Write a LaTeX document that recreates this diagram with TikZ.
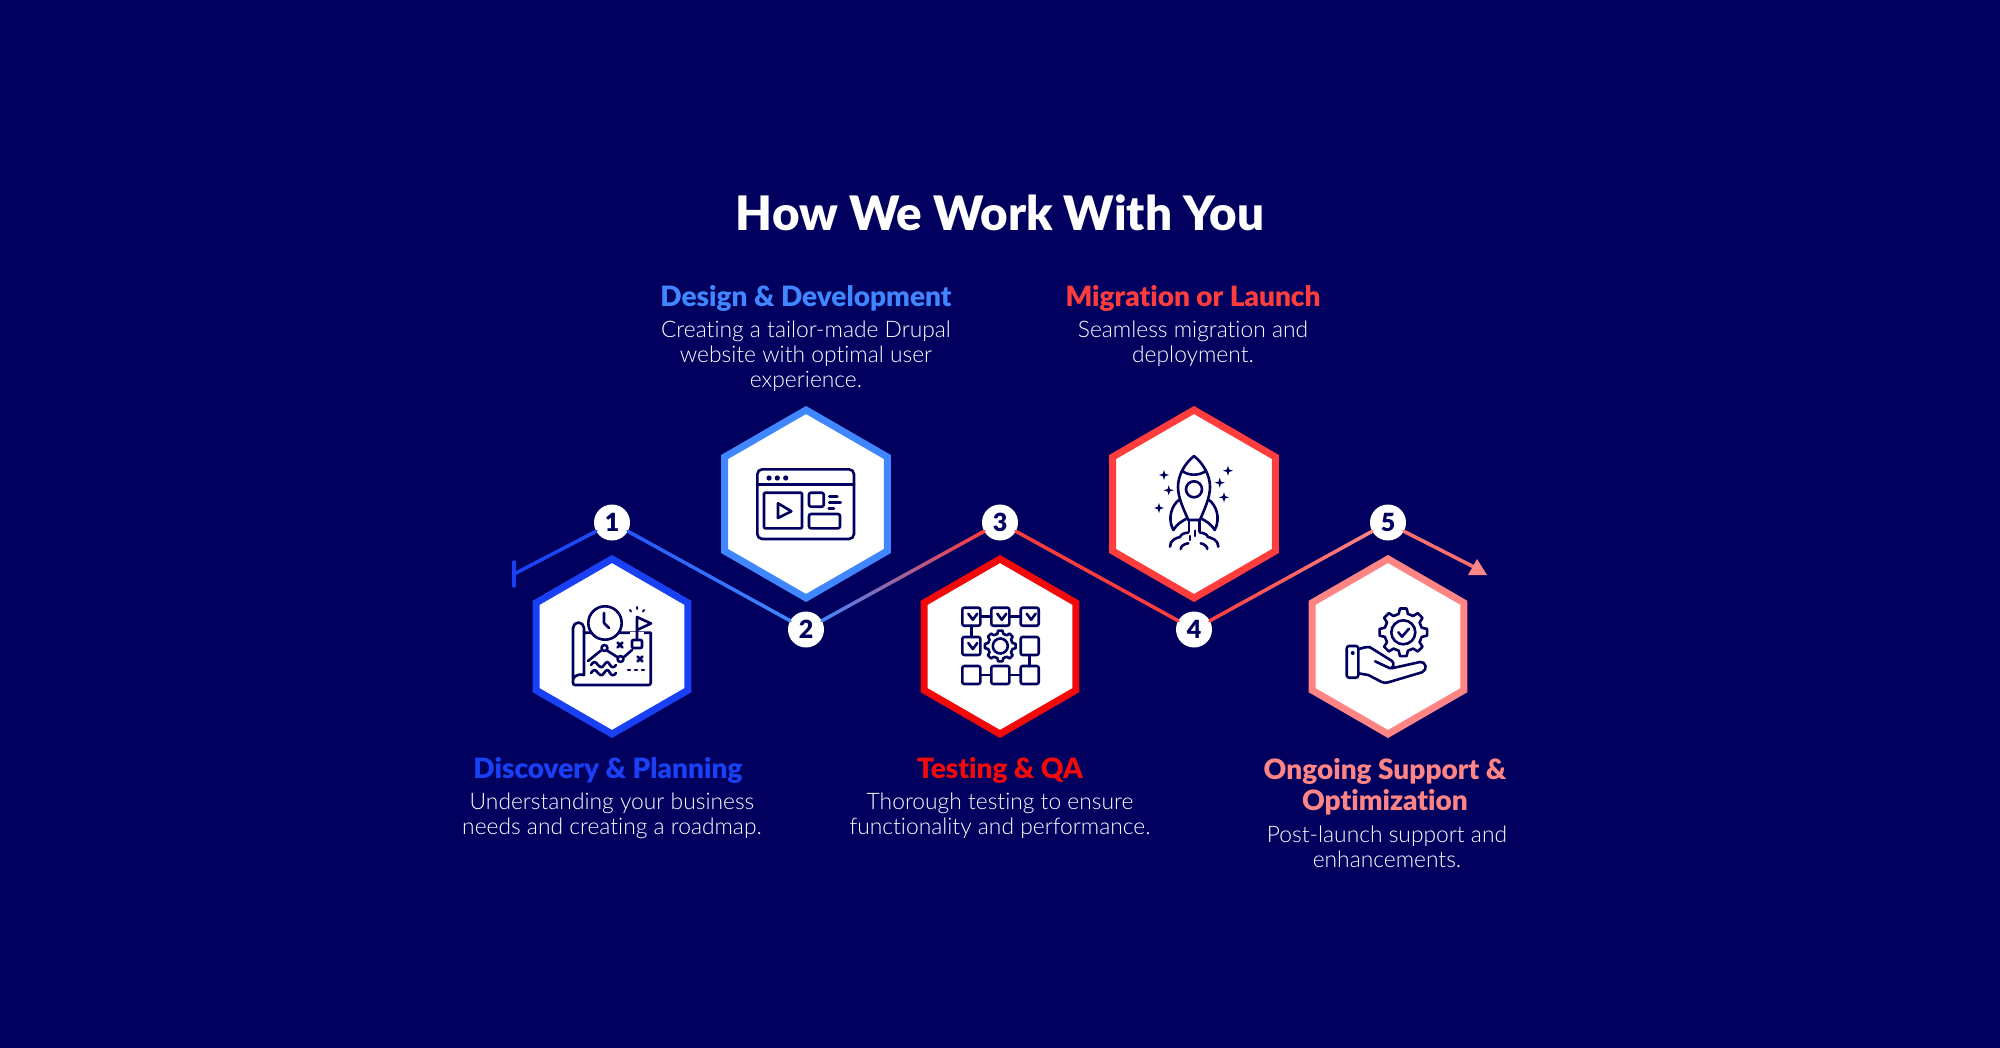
\documentclass[tikz,border=0pt]{standalone}
\usepackage{fontspec}
\setmainfont{Lato}[Ligatures=NoCommon]
\newfontfamily\bodyfont{Lato Light}[Ligatures=NoCommon]
\newfontfamily\heavyfont{Lato Black}[Ligatures=NoCommon]
\usetikzlibrary{calc,shapes.geometric}

\definecolor{navy}{HTML}{01005F}
\definecolor{hexa}{HTML}{1A40F5}
\definecolor{hexb}{HTML}{3F86FF}
\definecolor{hexc}{HTML}{F00A0A}
\definecolor{hexd}{HTML}{FF3D3D}
\definecolor{hexe}{HTML}{FF8585}

\newcommand\gradline[4]{
  \foreach \i in {1,...,24} {
    \pgfmathsetmacro\ta{(\i-1)/24}
    \pgfmathsetmacro\tb{\i/24}
    \pgfmathtruncatemacro\pct{100*\i/24}
    \draw [link,#4!\pct!#3] ($(#1)!\ta!(#2)$) -- ($(#1)!\tb!(#2)$);
  }
}
\newcommand\gearicon[4]{
  \draw [icon,shift={(#1)}] (-14:#2) foreach \a in {0,45,...,315}
    { -- (\a-14:#2) -- (\a-8:#3) -- (\a+8:#3) -- (\a+14:#2) } -- cycle;
  \draw [icon] (#1) circle (#4);
}
\newcommand\sparkle[1]{
  \fill [navy,shift={(#1)}] (0,-5) -- (1.2,-1.2) -- (5,0) -- (1.2,1.2) -- (0,5)
    -- (-1.2,1.2) -- (-5,0) -- (-1.2,-1.2) -- cycle;
}

\begin{document}
\begin{tikzpicture}
[x=1pt,y=-1pt
,hexbox/.style={regular polygon,regular polygon sides=6,shape border rotate=30,fill=white,line width=7pt,inner sep=0pt,outer sep=0pt,minimum size=175pt}
,bighex/.style={hexbox,minimum size=188pt}
,numdot/.style={circle,fill=white,inner sep=0pt,minimum size=36pt,text=navy,font=\heavyfont\fontsize{25}{25}\selectfont}
,link/.style={line width=3.5pt,line cap=round}
,icon/.style={draw=navy,line width=2.6pt,line join=round,line cap=round}
,headtext/.style={inner sep=0pt,align=center,font=\heavyfont\fontsize{28}{31}\selectfont}
,desctext/.style={inner sep=0pt,align=center,text=white,font=\bodyfont\fontsize{22.8}{25}\selectfont}
]

\fill [navy] (0,0) rectangle (2000,1048);

\node [inner sep=0pt,text=white,font=\heavyfont\fontsize{47.5}{49}\selectfont] (title) at (1000,213) {How We Work With You};

\node [hexbox,draw=hexa] (hex1) at (612,646.5) {};
\node [bighex,draw=hexb] (hex2) at (806,504) {};
\node [hexbox,draw=hexc] (hex3) at (1000,646.5) {};
\node [bighex,draw=hexd] (hex4) at (1194,504) {};
\node [hexbox,draw=hexe] (hex5) at (1388,646.5) {};

\node [numdot] (n1) at (612,522.5) {1};
\node [numdot] (n2) at (806,629.5) {2};
\node [numdot] (n3) at (1000,522.5) {3};
\node [numdot] (n4) at (1194,629.5) {4};
\node [numdot] (n5) at (1388,522.5) {5};

\coordinate (start) at (514,574);
\coordinate (tickup) at (514,562);
\coordinate (tickdown) at (514,586);
\coordinate (finish) at (1476,568);

\gradline{start}{n1.209}{hexa}{hexa!85!hexb}
\gradline{n1.-29}{n2.151}{hexa!70!hexb}{hexb}
\gradline{n2.29}{n3.209}{hexb}{hexd}
\gradline{n3.-29}{n4.151}{hexd}{hexd}
\gradline{n4.29}{n5.209}{hexd}{hexe}
\gradline{n5.-29}{finish}{hexe!70!hexd}{hexe}
\draw [link,hexa] (tickup) -- (tickdown);
\fill [hexe] (1477,559) -- (1487,575) -- (1468,575) -- cycle;

\node [headtext,text=hexa] (head1) at (608,770.5) {Discovery \& Planning};
\node [desctext] (desc1) at (612,816) {Understanding your business\\needs and creating a roadmap.};
\node [headtext,text=hexb] (head2) at (806,298.5) {Design \& Development};
\node [desctext] (desc2) at (806,356) {Creating a tailor-made Drupal\\website with optimal user\\experience.};
\node [headtext,text=hexc] (head3) at (1000,770.5) {Testing \& QA};
\node [desctext] (desc3) at (1000,816) {Thorough testing to ensure\\functionality and performance.};
\node [headtext,text=hexd] (head4) at (1193,298.5) {Migration or Launch};
\node [desctext] (desc4) at (1193,344) {Seamless migration and\\deployment.};
\node [headtext,text=hexe] (head5) at (1385,786.5) {Ongoing Support \&\\Optimization};
\node [desctext] (desc5) at (1387,846.5) {Post-launch support and\\enhancements.};

% map icon
\draw [icon] (584,632.7) -- (650.7,632.7) [rounded corners=2pt] -- (650.7,685) -- (573,685) [sharp corners] -- (573,628) arc (180:360:5.5) -- (584,675) .. controls (578,673) and (573,677) .. (573,680);
\fill [white] (605,623) circle (16.7);
\draw [icon] (605,623) circle (16.7);
\draw [icon] (604,613) -- (604,623) -- (609,628);
\fill [white] (630,640) rectangle (644,632);
\draw [icon] (637,640) -- (637,617) -- (651,623.5) -- (637,630);
\draw [icon,fill=white,rounded corners=1pt] (632,640) rectangle (642,648);
\draw [icon,line width=2pt] (630,610) -- (631,611.5) (637,607) -- (637,609) (643,611.5) -- (644,610);
\draw [icon] (588,661) -- (601,650.5) (607,650.5) -- (618,657.5) (624,657) -- (632,650);
\draw [icon] (604.5,648) circle (3) (620.5,659) circle (3);
\foreach \mx/\my in {620/645,640/659}
  \draw [icon] (\mx-2.5,\my-2.5) -- (\mx+2.5,\my+2.5) (\mx-2.5,\my+2.5) -- (\mx+2.5,\my-2.5);
\draw [icon] (628,670) -- (630,670) (635,670) -- (637,670) (642,670) -- (644,670);
\foreach \wy in {665,673}
  \draw [icon] (591,\wy) .. controls (594,\wy-4) and (595,\wy-4) .. (598,\wy) .. controls (601,\wy+3) and (602,\wy+3) .. (604,\wy) .. controls (607,\wy-4) and (608,\wy-4) .. (610,\wy) .. controls (612,\wy+3) and (614,\wy+3) .. (616,\wy);

% browser icon
\draw [icon,rounded corners=5pt] (757.3,469.3) rectangle (854,539);
\draw [icon] (757.3,484.3) -- (854,484.3);
\foreach \dx in {769,777.3,785.7}
  \fill [navy] (\dx,478) circle (2.6);
\draw [icon,rounded corners=1pt] (764,492.7) rectangle (802,528.3);
\draw [icon] (778,503.3) -- (791.3,511.3) -- (778,518) -- cycle;
\draw [icon,rounded corners=2pt] (809,492.7) rectangle (823.7,506.7);
\draw [icon,rounded corners=2pt] (809,514) rectangle (840,528.3);
\draw [icon] (829.3,496.7) -- (837.3,496.7) (829.3,502.3) -- (840.7,502.3) (828.7,508.3) -- (834,508.3);

% flow icon
\foreach \bx/\by in {971.3/616.7,1000.3/616.7,1029.7/616.7,971.3/646,1029.7/646,971.3/675,1000.3/675,1029.7/675}
  \draw [icon,rounded corners=2pt] (\bx-9,\by-9) rectangle (\bx+9,\by+9);
\foreach \bx/\by in {971.3/616.7,1000.3/616.7,1029.7/616.7,971.3/646}
  \draw [icon] (\bx-3,\by-3) -- (\bx+1.5,\by+3) -- (\bx+6,\by-3);
\draw [icon] (980.3,616.7) -- (991.3,616.7) (1009.3,616.7) -- (1020.7,616.7) (980.3,675) -- (991.3,675) (1009.3,675) -- (1020.7,675) (971.3,625.7) -- (971.3,637) (1029.7,655) -- (1029.7,666);
\gearicon{1000.3,646}{12.5}{15.5}{7.5}

% rocket icon
\draw [icon] (1194,456) .. controls (1184,464) and (1178,476) .. (1178,487) .. controls (1178,498) and (1184,510) .. (1188.3,520) -- (1200,520) .. controls (1204,510) and (1210,498) .. (1210,487) .. controls (1210,476) and (1204,464) .. (1194,456) -- cycle;
\draw [icon] (1182,470.7) .. controls (1188,476) and (1200,476) .. (1206,470.7);
\draw [icon] (1194,489.3) circle (8);
\draw [icon] (1179,500) .. controls (1172,505) and (1167,518) .. (1173.3,530) .. controls (1177,524) and (1182,521) .. (1187.3,518.3);
\draw [icon] (1209,500) .. controls (1216,505) and (1221,518) .. (1214.7,530) .. controls (1211,524) and (1206,521) .. (1200.7,518.3);
\draw [icon] (1189,520.7) -- (1189,531.7) (1199.3,520.7) -- (1199.3,531.7) (1195,530.7) -- (1195,536) (1190,536) -- (1190,540);
\draw [icon] (1170,546.7) .. controls (1170,540) and (1176,538) .. (1180,537) .. controls (1181,534) and (1185,532.7) .. (1188,532.7);
\draw [icon] (1218.3,546.7) .. controls (1218.3,540) and (1212,538) .. (1208,537) .. controls (1207,534) and (1203,532.7) .. (1200,532.7);
\draw [icon] (1180.7,549) .. controls (1181,546) and (1184,544) .. (1188.3,543.3) (1207.3,549) .. controls (1207,546) and (1204,544) .. (1200.7,543.3);
\foreach \sx/\sy in {1164/475,1168.7/490.3,1159/508,1228/470.7,1219.7/482.7,1224/497.3}
  {\sparkle{\sx,\sy}}

% support icon
\gearicon{1403.3,632.3}{19}{24}{12}
\draw [icon] (1398.3,632.3) -- (1402,636.7) -- (1409,628.7);
\draw [icon,rounded corners=2.5pt] (1346.7,646) rectangle (1358.3,677.7);
\fill [navy] (1352.7,653) circle (2);
\draw [icon] (1358.3,649.3) .. controls (1362,648) and (1367,646.5) .. (1370,647.3) -- (1392,661) .. controls (1395,664) and (1393,668) .. (1390,668.3) -- (1375,661.3);
\draw [icon] (1358.3,673.3) -- (1368.3,675) -- (1381.7,682) .. controls (1384,683) and (1386,683) .. (1388.3,682.3) -- (1422,672.3) .. controls (1428,670) and (1426,661) .. (1420,662) -- (1391.7,668.3);

\end{tikzpicture}
\end{document}
